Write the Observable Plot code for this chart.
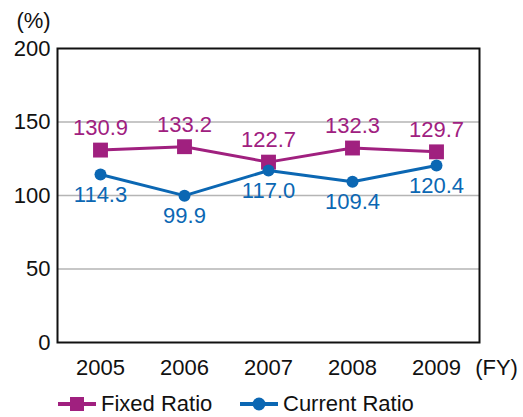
<!DOCTYPE html>
<html>
<head>
<meta charset="utf-8">
<script src="https://cdn.jsdelivr.net/npm/d3@7"></script>
<script src="https://cdn.jsdelivr.net/npm/@observablehq/plot@0.6"></script>
<style>
  html, body { margin: 0; padding: 0; background: #fff; }
  body { width: 523px; height: 417px; position: relative; overflow: hidden; font-family: "Liberation Sans", Arial, sans-serif; }
  #chart svg g[aria-label$="tick label"], #chart svg g[aria-label$="tick label"] text { font-size: 22px; }
  #legend { position: absolute; left: 0; top: 388px; width: 523px; height: 32px; font-size: 22px; color: #111; }
  .item { position: absolute; top: 0; height: 32px; display: flex; align-items: center; }
  .item svg { display: block; }
  .item span { margin-left: 5px; }
</style>
</head>
<body>
<div id="chart"></div>
<div id="legend"></div>
<script>
const years = ["2005", "2006", "2007", "2008", "2009"];
const fixedRatio = [130.9, 133.2, 122.7, 132.3, 129.7];
const currentRatio = [114.3, 99.9, 117.0, 109.4, 120.4];
const yTicks = [0, 50, 100, 150, 200];
const gridValues = [50, 100, 150];
const seriesNames = ["Fixed Ratio", "Current Ratio"];

const magenta = "#A0207F";
const blue = "#0B67B3";

const fixedData = years.map((y, i) => ({year: y, value: fixedRatio[i]}));
const currentData = years.map((y, i) => ({year: y, value: currentRatio[i]}));

const chart = Plot.plot({
  width: 523,
  height: 385,
  marginLeft: 57,
  marginRight: 44,
  marginTop: 48,
  marginBottom: 43,
  style: {fontFamily: "'Liberation Sans', Arial, sans-serif", fontSize: "22px", color: "#111", background: "#fff"},
  x: {type: "point", domain: years, padding: 0.5},
  y: {domain: [0, 200]},
  marks: [
    Plot.ruleY(gridValues, {stroke: "#b5b5b5", strokeWidth: 1.6}),
    Plot.frame({stroke: "#111", strokeWidth: 2}),
    Plot.axisY({ticks: yTicks, tickSize: 0, tickPadding: 7, label: null, fontSize: 22}),
    Plot.axisX({tickSize: 0, tickPadding: 17, label: null, fontSize: 22}),
    Plot.line(fixedData, {x: "year", y: "value", stroke: magenta, strokeWidth: 3}),
    Plot.line(currentData, {x: "year", y: "value", stroke: blue, strokeWidth: 3}),
    Plot.dot(fixedData, {x: "year", y: "value", symbol: "square", r: 8.4, fill: magenta, stroke: "none"}),
    Plot.dot(currentData, {x: "year", y: "value", symbol: "circle", r: 6, fill: blue, stroke: "none"}),
    Plot.text(fixedData, {x: "year", y: "value", text: d => d.value.toFixed(1), dy: -22, fill: magenta, fontSize: 22, lineAnchor: "middle"}),
    Plot.text(currentData, {x: "year", y: "value", text: d => d.value.toFixed(1), dy: 20, fill: blue, fontSize: 22, lineAnchor: "middle"}),
    Plot.text(["(%)"], {frameAnchor: "top-left", text: d => d, dx: -24, dy: -28, textAnchor: "middle", lineAnchor: "middle", fontSize: 22, fill: "#111"}),
    Plot.text(["(FY)"], {frameAnchor: "bottom-right", text: d => d, dx: 17, dy: 25, textAnchor: "middle", lineAnchor: "middle", fontSize: 22, fill: "#111"})
  ]
});
document.getElementById("chart").appendChild(chart);

// Legend
const legend = document.getElementById("legend");
const legendDefs = [
  {name: seriesNames[0], color: magenta, symbol: "square", left: 58},
  {name: seriesNames[1], color: blue, symbol: "circle", left: 240}
];
for (const d of legendDefs) {
  const item = document.createElement("div");
  item.className = "item";
  item.style.left = d.left + "px";
  const ns = "http://www.w3.org/2000/svg";
  const svg = document.createElementNS(ns, "svg");
  svg.setAttribute("width", 38);
  svg.setAttribute("height", 20);
  const line = document.createElementNS(ns, "line");
  line.setAttribute("x1", 0); line.setAttribute("x2", 38);
  line.setAttribute("y1", 10); line.setAttribute("y2", 10);
  line.setAttribute("stroke", d.color); line.setAttribute("stroke-width", 4);
  svg.appendChild(line);
  if (d.symbol === "square") {
    const r = document.createElementNS(ns, "rect");
    r.setAttribute("x", 12); r.setAttribute("y", 3); r.setAttribute("width", 14); r.setAttribute("height", 14);
    r.setAttribute("fill", d.color);
    svg.appendChild(r);
  } else {
    const c = document.createElementNS(ns, "circle");
    c.setAttribute("cx", 19); c.setAttribute("cy", 10); c.setAttribute("r", 6.5);
    c.setAttribute("fill", d.color);
    svg.appendChild(c);
  }
  item.appendChild(svg);
  const span = document.createElement("span");
  span.textContent = d.name;
  item.appendChild(span);
  legend.appendChild(item);
}
</script>
</body>
</html>
